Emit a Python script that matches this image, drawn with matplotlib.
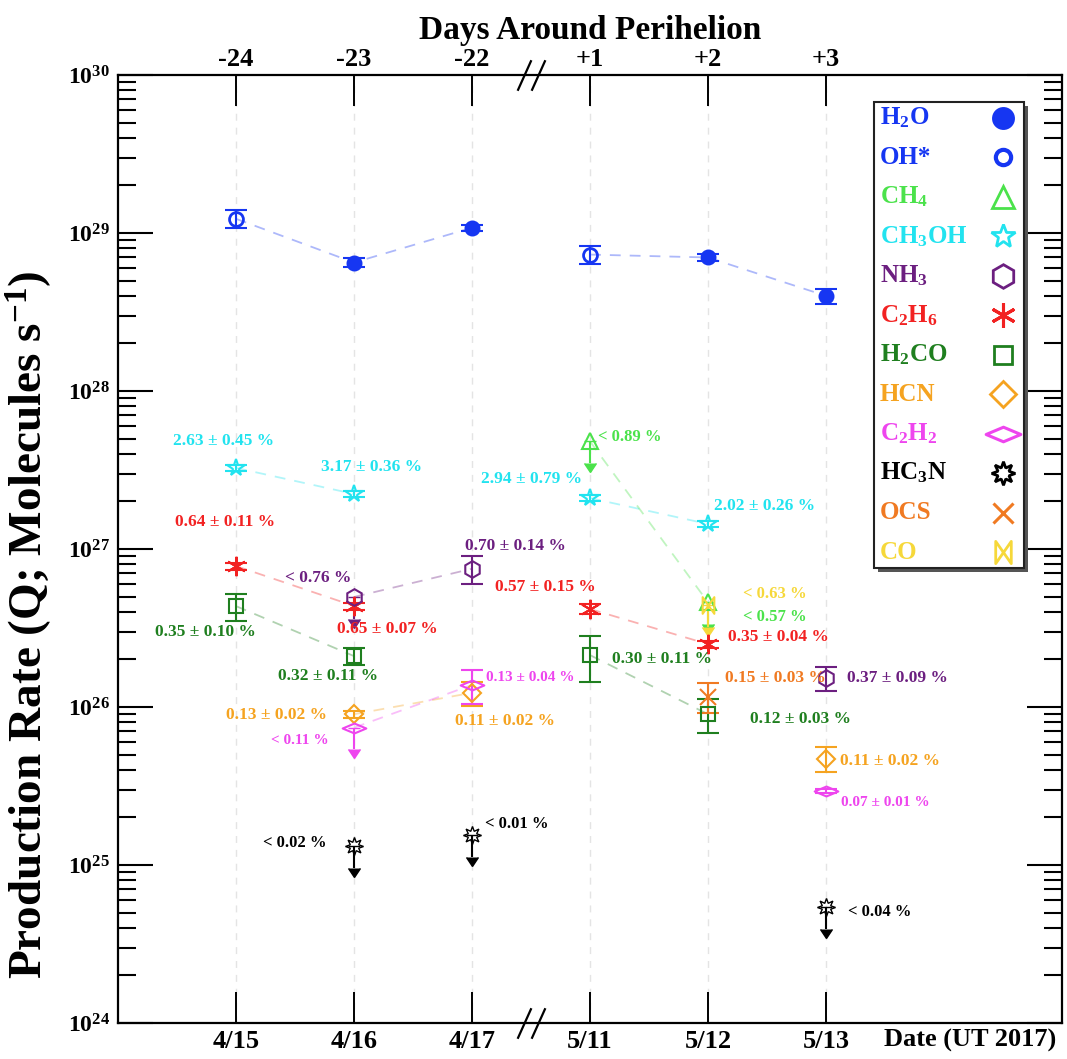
"""
Molecular production rates around perihelion (log scale, broken date axis).
"""
import numpy as np
import matplotlib
matplotlib.use('Agg')
import matplotlib.pyplot as plt
from matplotlib.path import Path
from matplotlib.patches import Rectangle

plt.rcParams['font.family'] = ['Liberation Serif', 'DejaVu Serif']
plt.rcParams['font.weight'] = 'bold'
plt.rcParams['axes.labelweight'] = 'bold'
plt.rcParams['mathtext.fontset'] = 'custom'
plt.rcParams['mathtext.rm'] = 'Liberation Serif:bold'
plt.rcParams['mathtext.bf'] = 'Liberation Serif:bold'
plt.rcParams['mathtext.it'] = 'Liberation Serif:bold'
plt.rcParams['mathtext.default'] = 'bf'

# ---- data -------------------------------------------------------------
dates = ['4/15', '4/16', '4/17', '5/11', '5/12', '5/13']
days = ['-24', '-23', '-22', '+1', '+2', '+3']

h2o_idx = [1, 2, 4, 5]
h2o_q = [6.5e28, 1.08e29, 7.0e28, 4.0e28]
h2o_err = [0.4e28, 0.05e29, 0.35e28, 0.43e28]

oh_idx = [0, 3]
oh_q = [1.23e29, 7.3e28]
oh_err = [0.16e29, 0.95e28]

ch3oh_idx = [0, 1, 3, 4]
ch3oh_q = [3.26e27, 2.23e27, 2.1e27, 1.44e27]
ch3oh_err = [0.15e27, 0.1e27, 0.1e27, 0.07e27]
ch3oh_lab = ['2.63 ± 0.45 %', '3.17 ± 0.36 %', '2.94 ± 0.79 %', '2.02 ± 0.26 %']

ch4_idx = [3, 4]
ch4_q = [4.8e27, 4.6e26]
ch4_err = [np.nan, np.nan]
ch4_lab = ['< 0.89 %', '< 0.57 %']

nh3_idx = [1, 2, 5]
nh3_q = [4.97e26, 7.5e26, 1.53e26]
nh3_err = [np.nan, 1.5e26, 0.27e26]
nh3_lab = ['< 0.76 %', '0.70 ± 0.14 %', '0.37 ± 0.09 %']

c2h6_idx = [0, 1, 3, 4]
c2h6_q = [7.8e26, 4.36e26, 4.17e26, 2.5e26]
c2h6_err = [0.4e26, 0.22e26, 0.3e26, 0.13e26]
c2h6_lab = ['0.64 ± 0.11 %', '0.65 ± 0.07 %', '0.57 ± 0.15 %', '0.35 ± 0.04 %']

h2co_idx = [0, 1, 3, 4]
h2co_q = [4.35e26, 2.1e26, 2.13e26, 9.0e25]
h2co_err = [0.85e26, 0.25e26, 0.68e26, 2.2e25]
h2co_lab = ['0.35 ± 0.10 %', '0.32 ± 0.11 %', '0.30 ± 0.11 %', '0.12 ± 0.03 %']

hcn_idx = [1, 2, 5]
hcn_q = [9.0e25, 1.23e26, 4.7e25]
hcn_err = [0.5e25, 0.22e26, 0.85e25]
hcn_lab = ['0.13 ± 0.02 %', '0.11 ± 0.02 %', '0.11 ± 0.02 %']

c2h2_idx = [1, 2, 5]
c2h2_q = [7.4e25, 1.38e26, 2.94e25]
c2h2_err = [np.nan, 0.34e26, 0.1e25]
c2h2_lab = ['< 0.11 %', '0.13 ± 0.04 %', '0.07 ± 0.01 %']

hc3n_idx = [1, 2, 5]
hc3n_q = [1.32e25, 1.55e25, 5.4e24]
hc3n_err = [np.nan, np.nan, np.nan]
hc3n_lab = ['< 0.02 %', '< 0.01 %', '< 0.04 %']

ocs_idx = [4]
ocs_q = [1.16e26]
ocs_err = [0.25e26]
ocs_lab = ['0.15 ± 0.03 %']

co_idx = [4]
co_q = [4.4e26]
co_err = [np.nan]
co_lab = ['< 0.63 %']

# label offsets (pixels) relative to each point
ch3oh_off = [(-12, 27), (18, 27), (-58, 19), (57, 18)]
ch4_off = [(40, 4), (67, -15)]
nh3_off = [(-36, 19), (43, 23), (71, 0)]
c2h6_off = [(-11, 44), (33, -23), (-45, 22), (70, 7)]
h2co_off = [(-31, -26), (-26, -20), (72, -4), (92, -5)]
hcn_off = [(-77, -1), (33, -28), (64, -2)]
c2h2_off = [(-54, -13), (58, 7), (59, -11)]
hc3n_off = [(-59, 3), (45, 11), (54, -5)]
ocs_off = [(67, 19)]
co_off = [(67, 11)]

# ---- styles -----------------------------------------------------------
C_H2O = '#1636f2'
C_CH4 = '#4be24b'
C_CH3OH = '#22e3ef'
C_NH3 = '#6c1f80'
C_C2H6 = '#f22222'
C_H2CO = '#1f7f1f'
C_HCN = '#f5a320'
C_C2H2 = '#ee45ee'
C_HC3N = '#000000'
C_OCS = '#f07a22'
C_CO = '#f6d83a'

WIDE_DIAMOND = Path([(-1, 0), (0, 0.42), (1, 0), (0, -0.42), (-1, 0)],
                    [Path.MOVETO, Path.LINETO, Path.LINETO, Path.LINETO, Path.CLOSEPOLY])
BOWTIE = Path([(-0.7, 1), (0.7, -1), (0.7, 1), (-0.7, -1), (-0.7, 1)],
              [Path.MOVETO, Path.LINETO, Path.LINETO, Path.LINETO, Path.CLOSEPOLY])

pos = np.arange(1, len(dates) + 1)
BREAK = 3.5

fig = plt.figure(figsize=(10.67, 10.59), dpi=100)
ax = fig.add_axes([118 / 1067, 36 / 1059, 944 / 1067, 948 / 1059])
ax.set_yscale('log')
ax.set_xlim(0, 8)
ax.set_ylim(1e24, 1e30)


def dashed(x, q, color):
    for side in (x < BREAK, x > BREAK):
        if side.sum() > 1:
            ax.plot(x[side], q[side], ls=(0, (6, 5)), color=color, alpha=0.35,
                    lw=1.3, zorder=1)


def species(idx, q, err, color, marker, ms, mfc='none', mew=1.5,
            labels=None, offs=None, fs=12.5, line=True):
    x = pos[np.array(idx)]
    q = np.array(q, float)
    err = np.array(err, float)
    lim = np.isnan(err)
    if line:
        dashed(x, q, color)
    if (~lim).any():
        ax.errorbar(x[~lim], q[~lim], yerr=err[~lim], fmt='none', ecolor=color,
                    elinewidth=1.5, capsize=8, capthick=1.5, zorder=3)
    if lim.any():
        eb = ax.errorbar(x[lim], q[lim], yerr=q[lim] * 0.27, uplims=True, fmt='none',
                         ecolor=color, elinewidth=1.5, capsize=4.5, zorder=3)
        for cl in eb[1]:
            cl.set_markerfacecolor(color)
            cl.set_markeredgecolor(color)
    ax.plot(x, q, ls='none', marker=marker, ms=ms, mfc=mfc, mec=color,
            mew=mew, zorder=4)
    if labels:
        for xi, qi, lab, (dx, dy) in zip(x, q, labels, offs):
            ax.annotate(lab, (xi, qi), xytext=(dx, dy), textcoords='offset pixels',
                        ha='center', va='center', color=color, fontsize=fs,
                        fontweight='bold', zorder=6)


# water: H2O and OH* share one dashed trend
w_idx = np.array(h2o_idx + oh_idx)
w_q = np.array(h2o_q + oh_q)
order = np.argsort(w_idx)
dashed(pos[w_idx[order]], w_q[order], C_H2O)
species(h2o_idx, h2o_q, h2o_err, C_H2O, 'o', 10, mfc=C_H2O, line=False)
species(oh_idx, oh_q, oh_err, C_H2O, 'o', 10, mew=2, line=False)

species(ch3oh_idx, ch3oh_q, ch3oh_err, C_CH3OH, '*', 13, labels=ch3oh_lab, offs=ch3oh_off)
species(ch4_idx, ch4_q, ch4_err, C_CH4, '^', 12, labels=ch4_lab, offs=ch4_off, fs=12)
species(c2h6_idx, c2h6_q, c2h6_err, C_C2H6, (6, 2, 0), 14, labels=c2h6_lab, offs=c2h6_off)
species(h2co_idx, h2co_q, h2co_err, C_H2CO, 's', 10, labels=h2co_lab, offs=h2co_off)
species(nh3_idx, nh3_q, nh3_err, C_NH3, 'h', 12, labels=nh3_lab, offs=nh3_off)
species(hcn_idx, hcn_q, hcn_err, C_HCN, 'D', 9, labels=hcn_lab, offs=hcn_off)
species(c2h2_idx, c2h2_q, c2h2_err, C_C2H2, WIDE_DIAMOND, 17, labels=c2h2_lab,
        offs=c2h2_off, fs=11)
species(hc3n_idx, hc3n_q, hc3n_err, C_HC3N, (8, 1, 0), 13, mew=1.0, labels=hc3n_lab,
        offs=hc3n_off, fs=12, line=False)
species(ocs_idx, ocs_q, ocs_err, C_OCS, 'x', 11, labels=ocs_lab, offs=ocs_off)
species(co_idx, co_q, co_err, C_CO, BOWTIE, 12, labels=co_lab, offs=co_off, fs=12)

# ---- axes -------------------------------------------------------------
for sp in ax.spines.values():
    sp.set_linewidth(1.6)

ax.set_xticks(pos, dates)
ax.tick_params(axis='x', which='major', direction='in', length=22, width=1.4,
               labelsize=19, pad=5, top=True)
ax.tick_params(axis='x', which='minor', bottom=False, top=False)
ax.grid(axis='x', ls=(0, (5, 5)), color='#e4e4e4', lw=1)

yt = 10.0 ** np.arange(24, 31)
ax.set_yticks(yt, [r'$\mathbf{10^{%d}}$' % e for e in range(24, 31)])
ax.yaxis.set_minor_locator(matplotlib.ticker.LogLocator(base=10, subs=np.arange(2, 10)))
ax.yaxis.set_minor_formatter(matplotlib.ticker.NullFormatter())
ax.tick_params(axis='y', which='major', direction='in', length=25, width=1.5,
               labelsize=17, left=True, right=True, pad=6)
ax.tick_params(axis='y', which='minor', direction='in', length=13, width=1.5,
               left=True, right=True)
ax.set_ylabel('Production Rate (Q; Molecules s$^{-1}$)', fontsize=34)
ax.yaxis.set_label_coords(-0.068, 0.42)

top = ax.secondary_xaxis('top')
top.set_xticks(pos, days)
top.tick_params(length=0, labelsize=19, pad=3)
top.spines['top'].set_visible(False)
top.set_xlabel('Days Around Perihelion', fontsize=24, fontweight='bold', labelpad=6)

ax.text(0.9025, -0.018, 'Date (UT 2017)', transform=ax.transAxes, ha='center',
        va='center', fontsize=19, fontweight='bold')

# axis-break marks
brk = dict(marker=[(-0.45, -1), (0.45, 1)], markersize=22, ls='none', mec='k',
           mew=1.6, clip_on=False, zorder=7, transform=ax.get_xaxis_transform())
ax.plot([BREAK - 0.06, BREAK + 0.06], [0, 0], **brk)
ax.plot([BREAK - 0.06, BREAK + 0.06], [1, 1], **brk)

# ---- legend (text left, symbol right) --------------------------------
leg_names = ['H$_2$O', 'OH*', 'CH$_4$', 'CH$_3$OH', 'NH$_3$', 'C$_2$H$_6$',
             'H$_2$CO', 'HCN', 'C$_2$H$_2$', 'HC$_3$N', 'OCS', 'CO']
leg_style = [(C_H2O, 'o', C_H2O, 15, 1.5), (C_H2O, 'o', 'none', 11, 3.0),
             (C_CH4, '^', 'none', 16, 2.0), (C_CH3OH, '*', 'none', 18, 2.0),
             (C_NH3, 'h', 'none', 17, 2.0), (C_C2H6, (6, 2, 0), 'none', 18, 2.2),
             (C_H2CO, 's', 'none', 13, 2.0), (C_HCN, 'D', 'none', 13, 2.0),
             (C_C2H2, WIDE_DIAMOND, 'none', 25, 2.2), (C_HC3N, (8, 1, 0), 'none', 17, 2.0),
             (C_OCS, 'x', 'none', 14, 2.2), (C_CO, BOWTIE, 'none', 16, 2.0)]

bx0, by0, bw, bh = 0.801, 0.480, 0.159, 0.4915
ax.add_patch(Rectangle((bx0 + 0.004, by0 - 0.004), bw, bh, transform=ax.transAxes,
                       fc='#555555', ec='none', zorder=8, clip_on=False))
ax.add_patch(Rectangle((bx0, by0), bw, bh, transform=ax.transAxes,
                       fc='white', ec='#222222', lw=1.5, zorder=9, clip_on=False))
ly = np.linspace(0.9546, 0.4968, len(leg_names))
for name, (col, mk, mf, ms, mw), yy in zip(leg_names, leg_style, ly):
    ax.text(0.807, yy, name, transform=ax.transAxes, ha='left', va='center',
            color=col, fontsize=18, fontweight='bold', zorder=10)
    ax.plot([0.9375], [yy], transform=ax.transAxes, ls='none', marker=mk, ms=ms,
            mfc=mf, mec=col, mew=mw, zorder=10, clip_on=False)

fig.savefig('out.png', dpi=100)
